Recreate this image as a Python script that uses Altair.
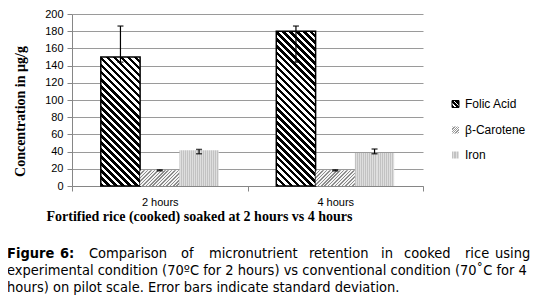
import altair as alt
import pandas as pd

# ---------------- data ----------------
times = ["2 hours", "4 hours"]
nutrients = ["Folic Acid", "β-Carotene", "Iron"]
folic = [150, 180]
beta = [18.2, 18.2]
iron = [41.5, 38.5]
folic_lo = [144, 144]
folic_hi = [186, 186]
beta_lo = [17.6, 17.6]
beta_hi = [18.8, 18.8]
iron_lo = [37.5, 37.5]
iron_hi = [42.5, 43.0]
y_ticks = [0, 20, 40, 60, 80, 100, 120, 140, 160, 180, 200]

rows = []
for i, t in enumerate(times):
    for n, v, lo, hi in zip(nutrients, [folic[i], beta[i], iron[i]],
                            [folic_lo[i], beta_lo[i], iron_lo[i]],
                            [folic_hi[i], beta_hi[i], iron_hi[i]]):
        rows.append({"time": t, "nutrient": n, "value": v, "lo": lo, "hi": hi})
df = pd.DataFrame(rows)

# ---------------- layout ----------------
W, H = 351, 172
YMAX = 200
OFF_PAD = 0.733
STEP = (W / len(times)) / (len(nutrients) + 2 * OFF_PAD)

SANS = "Liberation Sans"
SERIF = "Liberation Serif"
CAPFONT = "DejaVu Sans Condensed"
CAPSIZE = 14.5


def stripe_stops(n, c1, c2, frac):
    stops = []
    for k in range(n):
        a, b, c = k / n, (k + frac) / n, (k + 1) / n
        stops += [alt.GradientStop(offset=round(a, 5), color=c1),
                  alt.GradientStop(offset=round(b, 5), color=c1),
                  alt.GradientStop(offset=round(b, 5), color=c2),
                  alt.GradientStop(offset=round(c, 5), color=c2)]
    return stops


def diag(w, h, period, c1, c2, frac, back):
    r = h / w
    t = (1 + r) / (1 + r * r)
    n = max(1, round((w + h) / period))
    if back:  # "\" stripes
        coords = dict(x1=0, y1=1, x2=round(t, 5), y2=round(1 - r * t, 5))
    else:     # "/" stripes
        coords = dict(x1=0, y1=0, x2=round(t, 5), y2=round(r * t, 5))
    return alt.LinearGradient(gradient="linear", stops=stripe_stops(n, c1, c2, frac), **coords)


def vstripes(w, period, c1, c2, frac):
    n = max(1, round(w / period))
    return alt.LinearGradient(gradient="linear", stops=stripe_stops(n, c1, c2, frac),
                              x1=0, y1=0, x2=1, y2=0)


def fill_for(nutrient, w, h):
    if nutrient == "Folic Acid":
        return diag(w, h, 7.0, "#000000", "#ffffff", 0.5, True)
    if nutrient == "β-Carotene":
        return diag(w, h, 3.4, "#8c8c8c", "#f4f4f4", 0.45, False)
    return vstripes(w, 2.0, "#c2c2c2", "#dedede", 0.5)


x_enc = alt.X("time:N", sort=times,
              scale=alt.Scale(domain=times, paddingInner=0, paddingOuter=0),
              axis=alt.Axis(title="Fortified rice (cooked) soaked at 2 hours vs 4 hours",
                            titleFont=SERIF, titleFontSize=14, titleFontWeight="bold",
                            titleColor="#000000", titleX=127, titleY=23,
                            labelAngle=0, labelFont=SANS, labelFontSize=11, labelColor="#000000",
                            labelPadding=5, tickBand="extent", tickSize=5, tickColor="#868686",
                            domainColor="#868686", grid=False))
xo_enc = alt.XOffset("nutrient:N", sort=nutrients,
                     scale=alt.Scale(domain=nutrients, paddingInner=0, paddingOuter=OFF_PAD))
y_scale = alt.Scale(domain=[0, YMAX], nice=False)
y_axis = alt.Axis(title="Concentration in µg/g", values=y_ticks, labelOverlap=False,
                  titleFont=SERIF, titleFontSize=14, titleFontWeight="bold",
                  titleColor="#000000", titleAngle=270, titleX=-52, titleY=97,
                  titleAlign="center", titleBaseline="middle",
                  labelFont=SANS, labelFontSize=11, labelColor="#000000",
                  labelPadding=4, tickSize=5, tickColor="#868686",
                  domainColor="#868686", gridColor="#9a9a9a", gridWidth=1)


def yq(field):
    return alt.Y(f"{field}:Q", scale=y_scale, axis=y_axis)


layers = []
for _, row in df.iterrows():
    h = row["value"] / YMAX * H
    grad = fill_for(row["nutrient"], STEP, h)
    kw = dict(fill=grad)
    if row["nutrient"] == "Folic Acid":
        kw.update(stroke="#000000", strokeWidth=1.5)
    layers.append(
        alt.Chart(df)
        .transform_filter(f"datum.time == '{row['time']}' && datum.nutrient == '{row['nutrient']}'")
        .mark_bar(**kw)
        .encode(x=x_enc, xOffset=xo_enc, y=yq("value"))
    )

# error bars
layers.append(alt.Chart(df).mark_rule(color="#000000", strokeWidth=1.2)
              .encode(x=x_enc, xOffset=xo_enc, y=yq("lo"), y2="hi:Q"))
layers.append(alt.Chart(df).mark_tick(color="#000000", size=6, thickness=1.5)
              .encode(x=x_enc, xOffset=xo_enc, y=yq("lo")))
layers.append(alt.Chart(df).mark_tick(color="#000000", size=6, thickness=1.5)
              .encode(x=x_enc, xOffset=xo_enc, y=yq("hi")))

# legend
one = pd.DataFrame({"k": [0]})
LEG_X = 380
LEG_Y = [90, 116, 141]
for n, ly in zip(nutrients, LEG_Y):
    kw = dict(fill=fill_for(n, 7, 7))
    if n == "Folic Acid":
        kw = dict(fill=diag(7, 7, 5.0, "#000000", "#ffffff", 0.7, True), stroke="#000000", strokeWidth=1)
    if n == "β-Carotene":
        kw = dict(fill=diag(7, 7, 2.5, "#9a9a9a", "#ffffff", 0.5, False))
    layers.append(alt.Chart(one).mark_rect(**kw).encode(
        x=alt.value(LEG_X), x2=alt.value(LEG_X + 7),
        y=alt.value(ly - 3.5), y2=alt.value(ly + 3.5)))
    layers.append(alt.Chart(one).mark_text(text=n, align="left", baseline="middle",
                                           font=SANS, fontSize=12, color="#000000")
                  .encode(x=alt.value(LEG_X + 13), y=alt.value(ly)))

# caption
CAP_Y = [244, 261, 278]
line1 = [("Figure", -65, "bold"), ("6:", -12, "bold"), ("Comparison", 17, "normal"),
         ("of", 109, "normal"), ("micronutrient", 137, "normal"), ("retention", 237, "normal"),
         ("in", 309, "normal"), ("cooked", 332, "normal"), ("rice", 393, "normal"),
         ("using", 423, "normal")]
for word, wx, wt in line1:
    layers.append(alt.Chart(one).mark_text(text=word, align="left", baseline="alphabetic",
                                           font=CAPFONT, fontSize=CAPSIZE, fontWeight=wt, color="#000000")
                  .encode(x=alt.value(wx), y=alt.value(CAP_Y[0])))
line2 = "experimental condition (70ºC for 2 hours) vs conventional condition (70˚C for 4"
line3 = "hours) on pilot scale. Error bars indicate standard deviation."
for txt, cy in [(line2, CAP_Y[1]), (line3, CAP_Y[2])]:
    layers.append(alt.Chart(one).mark_text(text=txt, align="left", baseline="alphabetic",
                                           font=CAPFONT, fontSize=CAPSIZE, color="#000000")
                  .encode(x=alt.value(-65), y=alt.value(cy)))

chart = alt.layer(*layers).properties(
    width=W, height=H,
    autosize=alt.AutoSizeParams(type="none"),
    padding={"left": 64, "top": 6, "right": 112, "bottom": 112},
    background="#ffffff",
).configure_view(stroke=None)

chart.save("out.html", embed_options={"renderer": "svg", "actions": False})
